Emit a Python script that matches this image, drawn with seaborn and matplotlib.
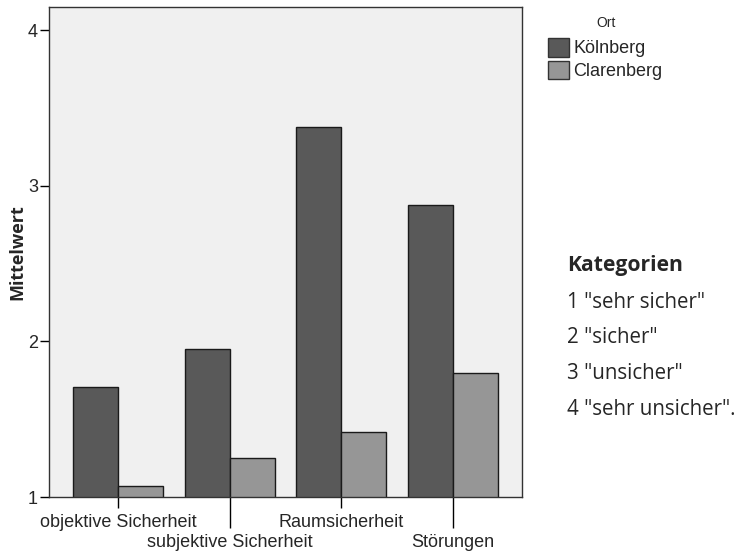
import matplotlib
matplotlib.use("Agg")
import matplotlib.pyplot as plt
import seaborn as sns
import pandas as pd
from matplotlib.patches import Patch

categories = ["objektive Sicherheit", "subjektive Sicherheit", "Raumsicherheit", "Störungen"]
koelnberg = [1.71, 1.95, 3.38, 2.88]
clarenberg = [1.07, 1.25, 1.42, 1.80]
orte = ["Kölnberg", "Clarenberg"]
kategorien = ['1 "sehr sicher"', '2 "sicher"', '3 "unsicher"', '4 "sehr unsicher".']

df = pd.DataFrame({
    "Kategorie": categories * 2,
    "Ort": [orte[0]] * 4 + [orte[1]] * 4,
    "Mittelwert": koelnberg + clarenberg,
})

sns.set_style("white")
plt.rcParams["font.family"] = ["Liberation Sans", "DejaVu Sans"]

farben = {"Kölnberg": "#595959", "Clarenberg": "#969696"}

fig = plt.figure(figsize=(7.42, 5.54), dpi=100)
ax = fig.add_axes([49 / 742, 1 - 497 / 554, (522 - 49) / 742, (497 - 7) / 554])
ax.set_facecolor("#f0f0f0")

sns.barplot(data=df, x="Kategorie", y="Mittelwert", hue="Ort", palette=farben,
            saturation=1, width=0.81, edgecolor="#1a1a1a", linewidth=1,
            legend=False, ax=ax)

ax.set_ylim(1, 4.15)
ax.set_xlim(-0.62, 3.62)
ax.set_yticks([1, 2, 3, 4])
ax.tick_params(axis="y", direction="out", length=6.5, width=1, color="black",
               labelsize=13, pad=1.5, left=True)

# staggered category labels: short ticks on 1st/3rd, long ticks on 2nd/4th
ax.set_xticks([0, 2], [categories[0], categories[2]])
ax.set_xticks([1, 3], [categories[1], categories[3]], minor=True)
ax.tick_params(axis="x", which="major", direction="out", length=8, width=1,
               color="black", labelsize=13, pad=4, bottom=True)
ax.tick_params(axis="x", which="minor", direction="out", length=22.5, width=1,
               color="black", labelsize=13, pad=4, bottom=True)

for s in ax.spines.values():
    s.set_color("#333333")
    s.set_linewidth(1)

ax.set_xlabel("")
ax.set_ylabel("Mittelwert", fontsize=13, fontweight="bold", labelpad=1,
              family=["Open Sans", "DejaVu Sans"])

handles = [Patch(facecolor=farben[o], edgecolor="#333333", linewidth=1) for o in orte]
fig.text(606 / 742, 1 - 23 / 554, "Ort", fontsize=10, ha="center", va="center")
leg = fig.legend(handles, orte, loc="upper left",
                 bbox_to_anchor=(548 / 742, 1 - 38 / 554), frameon=False,
                 fontsize=13, handlelength=1.17, handleheight=1.2,
                 handletextpad=0.22, labelspacing=0.2,
                 borderpad=0, borderaxespad=0)

fig.text(567 / 742, 1 - 266 / 554, "Kategorien", fontsize=15.2, fontweight="bold",
         family=["Open Sans", "DejaVu Sans"], va="center", ha="left")
for i, t in enumerate(kategorien):
    fig.text(567 / 742, 1 - (302 + i * 35.7) / 554, t, fontsize=14.8,
             family=["Open Sans", "DejaVu Sans"], va="center", ha="left")

fig.savefig("out.png", dpi=100)
